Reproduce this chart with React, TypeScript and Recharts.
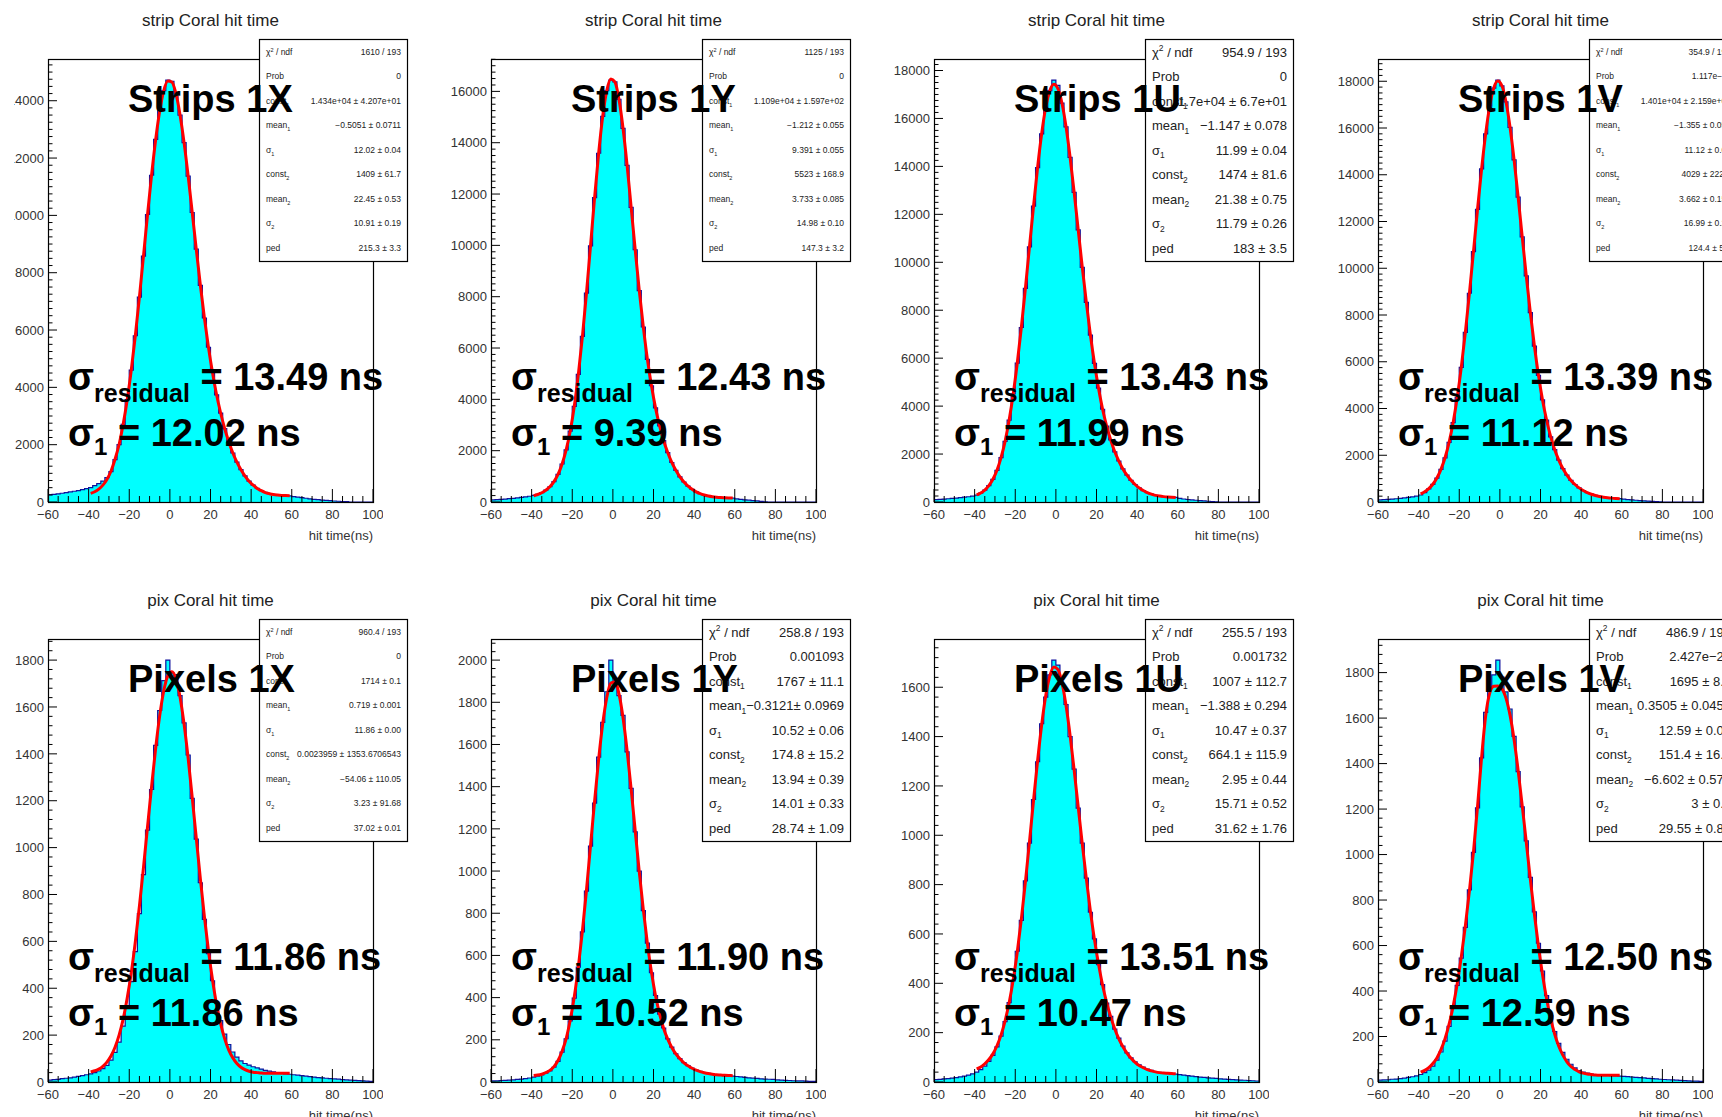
import { Area, ComposedChart, Line, XAxis, YAxis } from 'recharts';

const FONT = '"Liberation Sans", Arial, Helvetica, sans-serif';

// 2 ns histogram bins (centres) and the points where the fit curve is sampled
const BIN_CENTERS = [
  -59, -57, -55, -53, -51, -49, -47, -45, -43, -41,
  -39, -37, -35, -33, -31, -29, -27, -25, -23, -21,
  -19, -17, -15, -13, -11, -9, -7, -5, -3, -1,
  1, 3, 5, 7, 9, 11, 13, 15, 17, 19,
  21, 23, 25, 27, 29, 31, 33, 35, 37, 39,
  41, 43, 45, 47, 49, 51, 53, 55, 57, 59,
  61, 63, 65, 67, 69, 71, 73, 75, 77, 79,
  81, 83, 85, 87, 89, 91, 93, 95, 97, 99,
];
const FIT_CENTERS = [
  -39, -37, -35, -33, -31, -29, -27, -25, -23, -21,
  -19, -17, -15, -13, -11, -9, -7, -5, -3, -1,
  1, 3, 5, 7, 9, 11, 13, 15, 17, 19,
  21, 23, 25, 27, 29, 31, 33, 35, 37, 39,
  41, 43, 45, 47, 49, 51, 53, 55, 57, 59,
];
const X_TICKS = [
  -60, -55, -50, -45, -40, -35, -30, -25, -20, -15, -10, -5, 0, 5, 10, 15, 20,
  25, 30, 35, 40, 45, 50, 55, 60, 65, 70, 75, 80, 85, 90, 95, 100,
];

// strip planes
const HIST_S1X = [
  250, 265, 285, 305, 330, 350, 375, 400, 430, 465,
  505, 570, 640, 730, 850,
  1060, 1480, 2000, 2710, 3570, 4600, 5800, 7150, 8580, 10030, 11400, 12650, 13650, 14350, 14720,
  14680, 14240, 13500, 12540, 11370, 10100, 8820, 7560, 6420, 5400, 4520, 3740, 3100, 2560, 2100,
  1710, 1390, 1130, 910, 730, 590, 480, 400, 335, 290, 262, 245, 232, 222, 212,
  190, 170, 150, 130, 112, 95, 80, 66, 55, 45, 35, 26, 18, 10, 0, 0, 0, 0, 0, 0,
];
const FIT_S1X = [
  301, 357, 449, 588, 789,
  1075, 1491, 2005, 2710, 3570, 4605, 5810, 7150, 8580, 10030, 11410, 12640, 13640, 14350, 14685,
  14650, 14245, 13505, 12530, 11375, 10105, 8815, 7570, 6420, 5395, 4510, 3740, 3105, 2555, 2105,
  1710, 1390, 1125, 905, 725, 585, 475, 395, 330, 290, 260, 243, 231, 224, 220,
];
const HIST_S1Y = [
  80, 90, 100, 115, 130, 145, 160, 180, 200, 225,
  255, 300, 365, 460, 595,
  795, 1075, 1480, 2030, 2760, 3730, 4975, 6450, 8140, 9980, 11860, 13590, 15030, 16030, 16440,
  16370, 15690, 14560, 13120, 11480, 9830, 8240, 6820, 5560, 4530, 3670, 2965, 2390, 1925, 1540,
  1235, 980, 780, 620, 495, 396, 324, 272, 232, 204, 185, 171, 163, 157, 150,
  120, 100, 85, 70, 55, 40, 25, 10, 0, 0, 0, 0, 0, 0, 0, 0, 0, 0, 0, 0,
];
const FIT_S1Y = [
  245, 292, 360, 458, 595,
  794, 1074, 1480, 2028, 2759, 3732, 4974, 6447, 8142, 9981, 11860, 13593, 15033, 16030, 16486,
  16372, 15689, 14564, 13118, 11483, 9826, 8236, 6817, 5561, 4531, 3667, 2965, 2389, 1927, 1540,
  1233, 978, 777, 618, 495, 396, 324, 271, 232, 204, 185, 171, 163, 157, 153,
];
const HIST_S1U = [
  100, 110, 120, 135, 150, 165, 180, 200, 220, 245,
  285, 370, 495, 680, 945,
  1320, 1850, 2530, 3415, 4505, 5795, 7280, 8915, 10640, 12340, 13950, 15360, 16460, 17160, 17600,
  17380, 16640, 15650, 14380, 12920, 11350, 9790, 8330, 6960, 5780, 4750, 3870, 3170, 2590, 2095,
  1710, 1380, 1120, 905, 730, 590, 477, 392, 328, 277, 246, 224, 208, 198, 190,
  150, 125, 105, 88, 72, 58, 45, 32, 20, 8, 0, 0, 0, 0, 0, 0, 0, 0, 0, 0,
];
const FIT_S1U = [
  299, 377, 499, 683, 948,
  1322, 1850, 2531, 3416, 4506, 5797, 7279, 8917, 10642, 12338, 13955, 15360, 16454, 17153, 17425,
  17241, 16635, 15654, 14381, 12915, 11350, 9794, 8325, 6964, 5775, 4750, 3870, 3170, 2586, 2094,
  1708, 1381, 1119, 905, 730, 589, 477, 392, 328, 277, 246, 224, 208, 198, 192,
];
const HIST_S1V = [
  90, 100, 110, 125, 140, 155, 175, 195, 220, 250,
  300, 400, 560, 755, 1025,
  1395, 1890, 2550, 3400, 4470, 5760, 7260, 8930, 10710, 12520, 14250, 15750, 16940, 17710, 18050,
  17800, 17120, 16030, 14640, 13040, 11340, 9670, 8100, 6670, 5420, 4370, 3500, 2790, 2240, 1790,
  1430, 1150, 925, 748, 606, 493, 403, 333, 280, 238, 207, 183, 166, 153, 144,
  125, 105, 90, 75, 62, 50, 38, 26, 15, 6, 0, 0, 0, 0, 0, 0, 0, 0, 0, 0,
];
const FIT_S1V = [
  343, 437, 572, 759, 1029,
  1398, 1895, 2552, 3402, 4472, 5759, 7258, 8927, 10712, 12525, 14246, 15751, 16942, 17711, 18007,
  17807, 17123, 16035, 14640, 13038, 11345, 9669, 8096, 6672, 5423, 4366, 3506, 2794, 2237, 1793,
  1431, 1150, 924, 748, 606, 493, 403, 333, 280, 238, 207, 183, 166, 153, 144,
];

// pixel planes
const HIST_P1X = [
  8, 10, 11, 14, 16, 18, 21, 24, 27, 31,
  35, 40, 47, 57, 71,
  93, 126, 170, 238, 318, 428, 556, 718, 885, 1075, 1248, 1436, 1585, 1712, 1800,
  1745, 1738, 1648, 1532, 1395, 1210, 1036, 850, 694, 548, 432, 338, 262, 204, 160,
  128, 106, 90, 79, 72, 65, 60, 55, 50, 46, 43, 40, 37, 35, 33,
  31, 29, 27, 25, 23, 21, 19, 18, 16, 14, 13, 12, 10, 9, 8, 7, 6, 5, 4, 3,
];
const FIT_P1X = [
  43, 48, 55, 67, 85,
  111, 148, 200, 268, 358, 467, 599, 750, 915, 1089, 1261, 1424, 1563, 1669, 1733,
  1750, 1720, 1643, 1526, 1381, 1214, 1040, 868, 705, 560, 435, 330, 248, 184, 136,
  103, 79, 63, 53, 46, 42, 40, 38, 37, 37, 37, 37, 37, 37, 37,
];
const HIST_P1Y = [
  5, 6, 7, 8, 9, 10, 12, 14, 16, 19,
  23, 28, 34, 42, 53,
  70, 98, 142, 205, 290, 398, 545, 712, 905, 1118, 1322, 1540, 1705, 1850, 2000,
  1905, 1832, 1738, 1565, 1392, 1186, 1000, 812, 658, 518, 410, 322, 256, 204, 165,
  134, 111, 92, 78, 66, 57, 50, 45, 41, 37, 34, 32, 30, 29, 28,
  26, 24, 22, 20, 18, 17, 15, 14, 13, 12, 10, 9, 8, 7, 6, 5, 5, 4, 3, 3,
];
const FIT_P1Y = [
  31, 33, 37, 44, 55,
  73, 102, 146, 206, 293, 404, 546, 716, 909, 1120, 1331, 1530, 1698, 1823, 1891,
  1896, 1840, 1727, 1571, 1388, 1191, 996, 816, 656, 520, 409, 323, 254, 203, 164,
  133, 110, 91, 77, 65, 56, 49, 44, 40, 37, 34, 33, 32, 31, 30,
];
const HIST_P1U = [
  10, 11, 13, 14, 16, 18, 21, 24, 28, 33,
  40, 50, 64, 84, 108,
  142, 186, 245, 322, 410, 530, 655, 815, 968, 1145, 1298, 1452, 1560, 1650, 1710,
  1690, 1612, 1530, 1400, 1268, 1110, 968, 826, 688, 580, 476, 395, 320, 266, 214,
  178, 146, 118, 98, 82, 70, 60, 52, 47, 42, 39, 37, 35, 33, 32,
  30, 28, 26, 24, 22, 20, 19, 17, 16, 15, 13, 12, 11, 10, 9, 8, 7, 6, 5, 4,
];
const FIT_P1U = [
  53, 61, 74, 91, 114,
  147, 190, 248, 321, 414, 527, 660, 811, 973, 1141, 1302, 1447, 1565, 1645, 1682,
  1672, 1618, 1526, 1405, 1264, 1114, 965, 823, 692, 577, 478, 392, 322, 264, 215,
  175, 143, 117, 96, 80, 67, 58, 50, 45, 41, 38, 36, 35, 34, 33,
];
const HIST_P1V = [
  8, 9, 10, 12, 13, 15, 17, 20, 23, 27,
  33, 41, 52, 70, 96,
  132, 180, 245, 325, 425, 545, 680, 845, 1010, 1205, 1425, 1625, 1735, 1790, 1855,
  1780, 1715, 1640, 1520, 1365, 1210, 1060, 900, 748, 610, 488, 380, 292, 222, 170,
  130, 100, 78, 62, 50, 44, 39, 35, 33, 31, 30, 29, 28, 27, 26,
  25, 24, 22, 20, 19, 18, 16, 15, 14, 12, 11, 10, 9, 8, 7, 6, 5, 4, 4, 3,
];
const FIT_P1V = [
  43, 51, 63, 81, 106,
  142, 190, 254, 333, 432, 550, 686, 840, 1012, 1211, 1427, 1609, 1710, 1740, 1741,
  1729, 1688, 1613, 1505, 1369, 1215, 1054, 891, 737, 596, 472, 366, 279, 210, 157,
  118, 89, 68, 55, 45, 39, 35, 33, 31, 30, 30, 30, 30, 30, 30,
];

// fit result boxes
const STAT_NAMES = ['χ', 'Prob', 'const', 'mean', 'σ', 'const', 'mean', 'σ', 'ped'];
const STAT_INDEX = ['2', '', '1', '1', '1', '2', '2', '2', ''];
const STATS_S1X = ['1610 / 193', '0', '1.434e+04 ± 4.207e+01', '−0.5051 ± 0.0711', '12.02 ± 0.04', '1409 ± 61.7', '22.45 ± 0.53', '10.91 ± 0.19', '215.3 ± 3.3'];
const STATS_S1Y = ['1125 / 193', '0', '1.109e+04 ± 1.597e+02', '−1.212 ± 0.055', '9.391 ± 0.055', '5523 ± 168.9', '3.733 ± 0.085', '14.98 ± 0.10', '147.3 ± 3.2'];
const STATS_S1U = ['954.9 / 193', '0', '1.7e+04 ± 6.7e+01', '−1.147 ± 0.078', '11.99 ± 0.04', '1474 ± 81.6', '21.38 ± 0.75', '11.79 ± 0.26', '183 ± 3.5'];
const STATS_S1V = ['354.9 / 193', '1.117e−11', '1.401e+04 ± 2.159e+02', '−1.355 ± 0.059', '11.12 ± 0.06', '4029 ± 222.3', '3.662 ± 0.159', '16.99 ± 0.23', '124.4 ± 5.2'];
const STATS_P1X = ['960.4 / 193', '0', '1714 ± 0.1', '0.719 ± 0.001', '11.86 ± 0.00', '0.0023959 ± 1353.6706543', '−54.06 ± 110.05', '3.23 ± 91.68', '37.02 ± 0.01'];
const STATS_P1Y = ['258.8 / 193', '0.001093', '1767 ± 11.1', '−0.3121± 0.0969', '10.52 ± 0.06', '174.8 ± 15.2', '13.94 ± 0.39', '14.01 ± 0.33', '28.74 ± 1.09'];
const STATS_P1U = ['255.5 / 193', '0.001732', '1007 ± 112.7', '−1.388 ± 0.294', '10.47 ± 0.37', '664.1 ± 115.9', '2.95 ± 0.44', '15.71 ± 0.52', '31.62 ± 1.76'];
const STATS_P1V = ['486.9 / 193', '2.427e−27', '1695 ± 8.5', '0.3505 ± 0.0457', '12.59 ± 0.04', '151.4 ± 16.7', '−6.602 ± 0.579', '3 ± 0.1', '29.55 ± 0.88'];

const PANEL_NAMES = ['Strips 1X', 'Strips 1Y', 'Strips 1U', 'Strips 1V', 'Pixels 1X', 'Pixels 1Y', 'Pixels 1U', 'Pixels 1V'];
const SIGMA_RESIDUAL = ['13.49', '12.43', '13.43', '13.39', '11.86', '11.90', '13.51', '12.50'];
const SIGMA_1 = ['12.02', '9.39', '11.99', '11.12', '11.86', '10.52', '10.47', '12.59'];
const ROW_TITLES = ['strip Coral hit time', 'pix Coral hit time'];

const PANELS = [
  { hist: HIST_S1X, fit: FIT_S1X, stats: STATS_S1X, yStep: 2000, yDiv: 8, statFont: 8.5 },
  { hist: HIST_S1Y, fit: FIT_S1Y, stats: STATS_S1Y, yStep: 2000, yDiv: 8, statFont: 8.5 },
  { hist: HIST_S1U, fit: FIT_S1U, stats: STATS_S1U, yStep: 2000, yDiv: 8, statFont: 13 },
  { hist: HIST_S1V, fit: FIT_S1V, stats: STATS_S1V, yStep: 2000, yDiv: 8, statFont: 8.5 },
  { hist: HIST_P1X, fit: FIT_P1X, stats: STATS_P1X, yStep: 200, yDiv: 5, statFont: 8.5 },
  { hist: HIST_P1Y, fit: FIT_P1Y, stats: STATS_P1Y, yStep: 200, yDiv: 5, statFont: 13 },
  { hist: HIST_P1U, fit: FIT_P1U, stats: STATS_P1U, yStep: 200, yDiv: 5, statFont: 13 },
  { hist: HIST_P1V, fit: FIT_P1V, stats: STATS_P1V, yStep: 200, yDiv: 5, statFont: 13 },
];

// canvas layout
const FRAME_LEFT = [48, 491, 934, 1378];
const FRAME_TOP = [59, 639];
const CLIP_X = 14;
const AXIS_W = 60;
const PLOT_W = 325;
const PLOT_H = 443;
const M_TOP = 10;
const M_RIGHT = 10;
const X_AXIS_H = 40;
const FRAME_Y = 59;
const Y_GAP = 4;
const X_GAP = 8;
const BOX_X = AXIS_W + 211;
const BOX_Y = 39;
const BOX_W = 148;
const BOX_H = 222;
const CHART_W = AXIS_W + PLOT_W + M_RIGHT;
const CHART_H = M_TOP + PLOT_H + X_AXIS_H;

function buildRows(hist: number[], fit: number[]) {
  const inner = BIN_CENTERS.map((x, i) => {
    const j = FIT_CENTERS.indexOf(x);
    return { x, h: hist[i], f: j >= 0 ? fit[j] : null };
  });
  return [{ x: -60, h: hist[0], f: null }, ...inner, { x: 100, h: hist[hist.length - 1], f: null }];
}

function yTicks(max: number, step: number, div: number) {
  const minor = step / div;
  const out: number[] = [];
  for (let k = 0; k * minor <= max; k++) out.push(k * minor);
  return out;
}

const minus = (v: number) => String(v).replace('-', '\u2212');

const makeYTick = (step: number) => (props: any) => {
  const { x, y, payload } = props;
  const v = payload.value;
  const major = Math.abs(v / step - Math.round(v / step)) < 1e-6;
  const x0 = x + Y_GAP;
  return (
    <g>
      <line x1={x0} x2={x0 + (major ? 9 : 4.5)} y1={y} y2={y} stroke="#000" strokeWidth={1} />
      {major && (
        <text x={x} y={y} dy="0.36em" textAnchor="end" fontSize={13} fill="#333" fontFamily={FONT}>
          {v}
        </text>
      )}
    </g>
  );
};

const renderXTick = (props: any) => {
  const { x, y, payload } = props;
  const v = payload.value;
  const major = v % 20 === 0;
  const y0 = y - X_GAP;
  return (
    <g>
      <line x1={x} x2={x} y1={y0} y2={y0 - (major ? 13 : 6)} stroke="#000" strokeWidth={1} />
      {major && (
        <text x={x} y={y} dy="0.71em" textAnchor="middle" fontSize={13} fill="#333" fontFamily={FONT}>
          {minus(v)}
        </text>
      )}
    </g>
  );
};

function StatsBox({ values, fs }: { values: string[]; fs: number }) {
  return (
    <g fontFamily={FONT} fill="#222">
      <rect x={BOX_X + 0.5} y={BOX_Y + 0.5} width={BOX_W} height={BOX_H} fill="#fff" stroke="#000" strokeWidth={1.2} />
      {STAT_NAMES.map((name, k) => {
        const y = BOX_Y + 13 + k * 24.5;
        const idx = STAT_INDEX[k];
        return (
          <g key={k}>
            <text x={BOX_X + 7} y={y} dy="0.35em" fontSize={fs} style={{ whiteSpace: 'pre' }}>
              {name}
              {k === 0 ? (
                <>
                  <tspan dy={-fs * 0.4} fontSize={fs * 0.65}>{idx}</tspan>
                  <tspan dy={fs * 0.4}>{' / ndf'}</tspan>
                </>
              ) : idx ? (
                <tspan dy={fs * 0.3} fontSize={fs * 0.65}>{idx}</tspan>
              ) : null}
            </text>
            <text x={BOX_X + BOX_W - 6} y={y} dy="0.35em" fontSize={fs} textAnchor="end">
              {values[k]}
            </text>
          </g>
        );
      })}
    </g>
  );
}

function Panel({ index }: { index: number }) {
  const p = PANELS[index];
  const col = index % 4;
  const row = Math.floor(index / 4);
  const rows = buildRows(p.hist, p.fit);
  const yMax = Math.max(...p.hist) * 1.05;
  const ticks = yTicks(yMax, p.yStep, p.yDiv);
  const left = FRAME_LEFT[col] - AXIS_W - CLIP_X;
  const top = FRAME_TOP[row] - FRAME_Y;
  const margin = { top: M_TOP, right: M_RIGHT, bottom: 0, left: 0 };

  const xAxis = (withTicks: boolean) => (
    <XAxis
      dataKey="x"
      type="number"
      domain={[-60, 100]}
      ticks={X_TICKS}
      interval={0}
      allowDataOverflow
      height={X_AXIS_H}
      tickSize={0}
      tickMargin={X_GAP}
      axisLine={false}
      tickLine={false}
      tick={withTicks ? renderXTick : false}
    />
  );
  const yAxis = (withTicks: boolean) => (
    <YAxis
      type="number"
      domain={[0, yMax]}
      ticks={ticks}
      interval={0}
      allowDataOverflow
      width={AXIS_W}
      tickSize={0}
      tickMargin={Y_GAP}
      axisLine={false}
      tickLine={false}
      tick={withTicks ? makeYTick(p.yStep) : false}
    />
  );

  return (
    <div style={{ position: 'absolute', left, top, width: 520, height: 580 }}>
      {/* histogram and fit */}
      <div style={{ position: 'absolute', left: 0, top: FRAME_Y - M_TOP }}>
        <ComposedChart width={CHART_W} height={CHART_H} data={rows} margin={margin}>
          {xAxis(false)}
          {yAxis(false)}
          <Area
            type="step"
            dataKey="h"
            stroke="#10109c"
            strokeWidth={1.2}
            fill="#00ffff"
            fillOpacity={1}
            isAnimationActive={false}
          />
          <Line
            type="monotone"
            dataKey="f"
            stroke="#ff0000"
            strokeWidth={3}
            dot={false}
            activeDot={false}
            isAnimationActive={false}
          />
        </ComposedChart>
      </div>
      {/* axes drawn again on top so the ticks sit over the filled histogram */}
      <div style={{ position: 'absolute', left: 0, top: FRAME_Y - M_TOP, pointerEvents: 'none' }}>
        <ComposedChart width={CHART_W} height={CHART_H} data={rows} margin={margin}>
          {xAxis(true)}
          {yAxis(true)}
        </ComposedChart>
      </div>
      <svg
        width={520}
        height={580}
        style={{ position: 'absolute', left: 0, top: 0, pointerEvents: 'none', overflow: 'visible' }}
      >
        <rect x={AXIS_W + 0.5} y={FRAME_Y + 0.5} width={PLOT_W} height={PLOT_H} fill="none" stroke="#000" strokeWidth={1.2} />
        <text x={AXIS_W + PLOT_W / 2} y={26} textAnchor="middle" fontSize={17} fill="#222" fontFamily={FONT}>
          {ROW_TITLES[row]}
        </text>
        <text x={AXIS_W + PLOT_W} y={FRAME_Y + PLOT_H + 38} textAnchor="end" fontSize={13} fill="#333" fontFamily={FONT}>
          hit time(ns)
        </text>
        <StatsBox values={p.stats} fs={p.statFont} />
        <g fontFamily={FONT} fontWeight="bold" fill="#000" style={{ whiteSpace: 'pre' }}>
          <text x={AXIS_W + 80} y={FRAME_Y + 53} fontSize={38}>
            {PANEL_NAMES[index]}
          </text>
          <text x={AXIS_W + 20} y={FRAME_Y + 331} fontSize={38}>
            σ<tspan fontSize={25} dy={12}>residual</tspan>
            <tspan dy={-12}>{` = ${SIGMA_RESIDUAL[index]} ns`}</tspan>
          </text>
          <text x={AXIS_W + 20} y={FRAME_Y + 387} fontSize={38}>
            σ<tspan fontSize={24} dy={9}>1</tspan>
            <tspan dy={-9}>{` = ${SIGMA_1[index]} ns`}</tspan>
          </text>
        </g>
      </svg>
    </div>
  );
}

export default function App() {
  return (
    <div
      style={{
        position: 'absolute',
        left: 0,
        top: 0,
        width: 1722,
        height: 1117,
        overflow: 'hidden',
        background: '#fff',
        fontFamily: FONT,
      }}
    >
      <div style={{ position: 'absolute', left: CLIP_X, top: 0, right: 0, bottom: 0, overflow: 'hidden' }}>
        {PANELS.map((_, i) => (
          <Panel key={i} index={i} />
        ))}
      </div>
    </div>
  );
}
